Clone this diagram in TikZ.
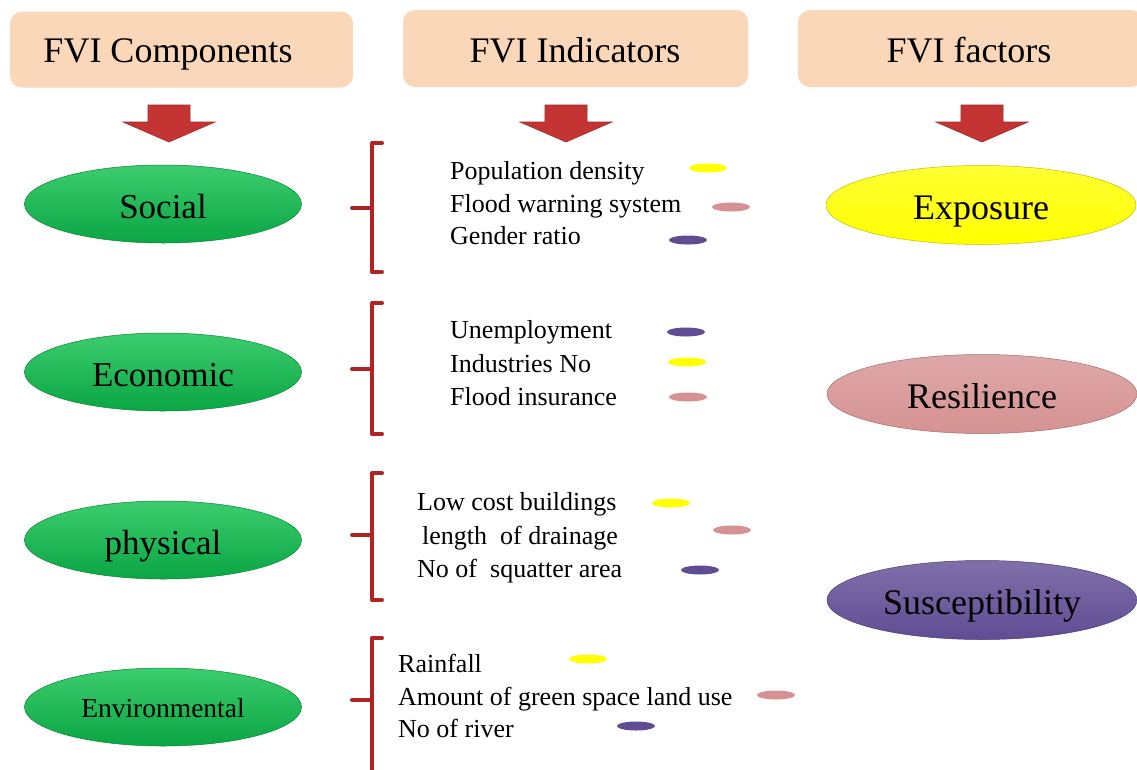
\documentclass[tikz,border=0pt]{standalone}
\usepackage{fontspec}
\setmainfont{Liberation Serif}
\usetikzlibrary{shapes.geometric}
\definecolor{peach}{RGB}{250,215,185}
\definecolor{arrowred}{RGB}{196,52,50}
\definecolor{bracketred}{RGB}{178,36,36}
\definecolor{gtop}{RGB}{60,205,110}
\definecolor{gbot}{RGB}{10,165,68}
\definecolor{ylw}{RGB}{255,255,0}
\definecolor{pnk}{RGB}{214,146,146}
\definecolor{prp}{RGB}{96,76,148}
\newcommand{\fvarrow}[1]{%
  \fill[arrowred,draw=arrowred!80!black,line width=0.6pt]
    (#1-21,105) -- (#1+21,105) -- (#1+21,122) -- (#1+46,122) -- (#1,142)
    -- (#1-46,122) -- (#1-21,122) -- cycle;}
\newcommand{\fvbracket}[4]{%
  \coordinate (#1t) at (382,#2);
  \coordinate (#1b) at (382,#3);
  \coordinate (#1m) at (352,#4);
  \draw[bracketred,line width=4pt,line join=round,line cap=round]
    (#1t) -- (372,#2) -- (372,#3) -- (#1b);
  \draw[bracketred,line width=4pt,line cap=round] (372,#4) -- (#1m);}
\begin{document}
\begin{tikzpicture}[x=1pt,y=-1pt,
  header/.style={fill=peach,rounded corners=12pt,inner sep=0pt},
  htext/.style={font=\fontsize{36}{40}\selectfont,text=black,inner sep=0pt},
  comp/.style={ellipse,minimum width=277pt,minimum height=78pt,inner sep=0pt,
    top color=gtop,bottom color=gbot,draw=gbot!80!black,line width=0.5pt,
    text height=34pt,text depth=6pt,
    font=\fontsize{35}{40}\selectfont},
  factor/.style={ellipse,minimum width=310pt,minimum height=79pt,inner sep=0pt,
    draw=#1!75!black,line width=0.5pt,top color=#1!80!white,bottom color=#1,
    text height=34pt,text depth=6pt,
    font=\fontsize{36}{40}\selectfont},
  ind/.style={anchor=base west,inner sep=0pt,font=\fontsize{26}{30}\selectfont},
  dot/.style={ellipse,fill=#1,minimum width=38pt,minimum height=9pt,inner sep=0pt}]
\useasboundingbox (0,0) rectangle (1137,769);
\fill[white] (0,0) rectangle (1137,769);
% headers
\node[header,minimum width=343pt,minimum height=76pt] (h1) at (181.5,49.5) {};
\node[header,minimum width=345pt,minimum height=77pt] (h2) at (575.5,48.5) {};
\node[header,minimum width=345pt,minimum height=77pt] (h3) at (970.5,48.5) {};
\node[htext] (h1t) at (168,54) {FVI Components};
\node[htext] (h2t) at (575,50) {FVI Indicators};
\node[htext] (h3t) at (969,50) {FVI factors};
% block arrows
\fvarrow{169}
\fvarrow{566}
\fvarrow{982}
% components
\node[comp] (social) at (163,204) {Social};
\node[comp] (econ) at (163,372) {Economic};
\node[comp] (phys) at (163,540) {physical};
\node[comp,font=\fontsize{27.5}{30}\selectfont,text height=26pt,text depth=6pt] (env) at (163,707) {Environmental};
% factors
\node[factor=ylw] (expo) at (981,205) {Exposure};
\node[factor=pnk] (resil) at (982,394) {Resilience};
\node[factor=prp] (susc) at (982,600) {Susceptibility};
% brackets
\fvbracket{b1}{143}{272}{208}
\fvbracket{b2}{303}{434}{369}
\fvbracket{b3}{473}{600}{535}
\fvbracket{b4}{638}{772}{700}
% group 1
\node[ind] (i11) at (450,179) {Population density};
\node[ind] (i12) at (450,212) {Flood warning system};
\node[ind] (i13) at (450,244) {Gender ratio};
\node[dot=ylw] (d11) at (708,168) {};
\node[dot=pnk] (d12) at (731,207) {};
\node[dot=prp] (d13) at (688,240) {};
% group 2
\node[ind] (i21) at (450,338) {Unemployment};
\node[ind] (i22) at (450,372) {Industries No};
\node[ind] (i23) at (450,405) {Flood insurance};
\node[dot=prp] (d21) at (686,332) {};
\node[dot=ylw] (d22) at (687,362) {};
\node[dot=pnk] (d23) at (688,397) {};
% group 3
\node[ind] (i31) at (417,510) {Low cost buildings};
\node[ind] (i32) at (422,544) {length\ \ of drainage};
\node[ind] (i33) at (417,577) {No of\ \ squatter area};
\node[dot=ylw] (d31) at (671,503) {};
\node[dot=pnk] (d32) at (732,530) {};
\node[dot=prp] (d33) at (700,570) {};
% group 4
\node[ind] (i41) at (398,672) {Rainfall};
\node[ind] (i42) at (398,705) {Amount of green space land use};
\node[ind] (i43) at (398,737) {No of river};
\node[dot=ylw] (d41) at (588,659) {};
\node[dot=pnk] (d42) at (776,695) {};
\node[dot=prp] (d43) at (636,726) {};
\end{tikzpicture}
\end{document}
